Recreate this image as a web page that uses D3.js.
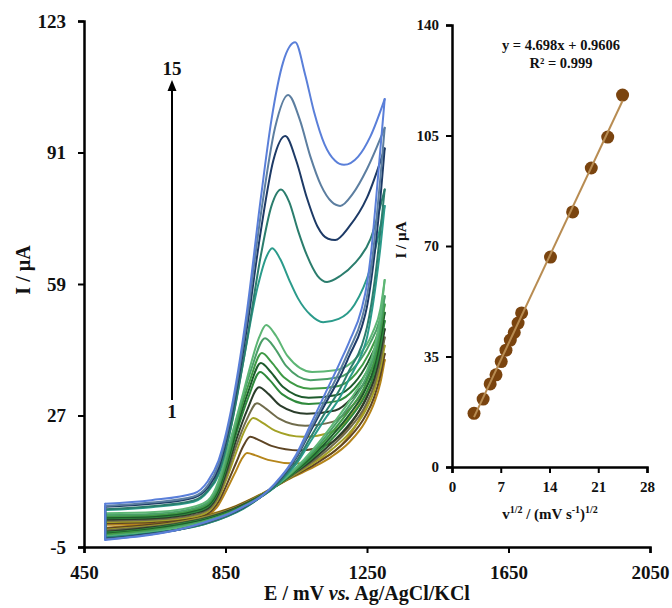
<!DOCTYPE html>
<html>
<head>
<meta charset="utf-8">
<title>Cyclic voltammograms at different scan rates</title>
<script src="https://d3js.org/d3.v7.min.js"></script>
<style>
body { margin: 0; background: #fff; }
text { font-family: "Liberation Serif", "Times New Roman", serif; font-weight: bold; fill: #111; }
</style>
</head>
<body>
<script>
// main CV plot: ticks
var xTicks = [450, 850, 1250, 1650, 2050];
var yTicks = [-5, 27, 59, 91, 123];

// curve 1 (slowest scan) .. curve 15 (fastest scan)
var curveColors = ["#b5851b", "#5e4524", "#a3a126", "#706c4c", "#2b3d2b",
                   "#2f8a3c", "#1d5b2c", "#3f9a45", "#4b9f68", "#5db675",
                   "#2b9b8b", "#2b7d6d", "#1d3a66", "#5c7ea0", "#5a7fd9"];

// forward (anodic) scans, [E mV, I uA]
var forwardScans = [
  [[510,0.4],[650,0.7],[760,1.5],[800,2.6],[830,5.2],[855,9.2],[880,13.6],[895,16.3],[911,17.9],[935,17.3],[970,16.2],[1050,15.3],[1130,16.8],[1190,21],[1240,28],[1275,35],[1300,40.5]],
  [[510,0.8],[650,1.1],[760,2],[800,3.1],[830,6],[855,10.5],[880,15.5],[900,19.5],[920,21.8],[945,21],[980,19.6],[1060,18.5],[1140,20],[1195,24],[1240,30],[1275,36.5],[1300,42]],
  [[510,1.1],[650,1.4],[760,2.4],[800,3.6],[830,6.8],[855,12],[880,18],[905,23.5],[928,26.4],[955,25.2],[990,23.3],[1070,21.8],[1150,23],[1200,26.5],[1245,32],[1278,38],[1300,44]],
  [[510,1.4],[650,1.7],[760,2.8],[800,4],[830,7.4],[855,13],[880,19.5],[910,26],[939,30],[965,28.6],[1000,26.3],[1075,24.5],[1155,25.5],[1205,29],[1248,34],[1280,40],[1300,46]],
  [[510,1.7],[650,2],[760,3.2],[800,4.4],[830,8],[855,14],[880,21],[912,28.5],[945,33.9],[972,32.2],[1005,29.4],[1080,27.4],[1160,28.2],[1210,31.5],[1250,36],[1280,42],[1300,48]],
  [[510,2],[650,2.3],[760,3.5],[800,4.8],[830,8.6],[855,15],[880,22.5],[915,31.5],[948,37.6],[975,35.6],[1010,32.2],[1085,29.8],[1165,30.5],[1215,33.5],[1252,38],[1282,44],[1300,50]],
  [[510,2.2],[650,2.5],[760,3.8],[800,5.1],[830,9],[855,15.6],[880,23.5],[915,33],[950,39.8],[978,37.6],[1012,34],[1085,31.3],[1165,32],[1215,35],[1253,40],[1283,46],[1300,52]],
  [[510,2.5],[650,2.8],[760,4.1],[800,5.5],[830,9.6],[855,16.4],[880,24.6],[917,35],[953,42.2],[980,40],[1015,36.3],[1090,33.5],[1170,34.2],[1220,37.3],[1255,42],[1284,48],[1300,54]],
  [[510,2.8],[650,3.1],[760,4.4],[800,5.9],[830,10.2],[855,17.2],[880,25.6],[920,37.5],[962,45.8],[990,43.3],[1022,39],[1090,35.6],[1170,36.3],[1222,39.5],[1258,44.5],[1285,50],[1300,56]],
  [[510,3.2],[650,3.5],[760,4.8],[800,6.3],[830,11],[855,18.5],[875,24.5],[900,32.5],[920,39],[945,46],[965,49],[992,46.5],[1025,41.5],[1095,37.6],[1160,38],[1222,41.2],[1265,47],[1288,53],[1300,60]],
  [[510,4],[640,4.7],[760,6],[800,8.5],[830,12.5],[860,22],[900,40],[940,58],[965,65.5],[982,67.7],[1005,65],[1030,60],[1055,55.5],[1090,51.5],[1126,49.7],[1170,50.5],[1215,54],[1260,63],[1300,78]],
  [[510,4.2],[640,4.9],[760,6.3],[800,8.8],[830,13],[865,24],[910,45],[950,66],[980,78],[1007,82],[1030,79],[1055,72],[1080,66],[1110,61],[1137,59.5],[1175,61],[1215,64],[1260,70],[1300,82]],
  [[510,4.8],[640,5.5],[760,7],[800,9.5],[830,14],[865,26],[910,48],[950,72],[985,89],[1019,95],[1050,89],[1080,80],[1110,73],[1140,70],[1160,69.7],[1200,73],[1250,80],[1300,92]],
  [[510,5],[640,5.8],[760,7.3],[800,10],[830,15],[865,27],[910,50],[950,76],[990,97],[1027,105],[1060,99],[1090,90],[1120,83],[1150,79],[1174,78],[1210,81],[1250,87],[1300,97]],
  [[510,5.5],[640,6.4],[760,8],[800,11],[830,16],[865,28],[910,52],[950,80],[980,99],[1013,113],[1047,117.8],[1075,110],[1100,101],[1130,93],[1160,89],[1185,88],[1225,90],[1260,95],[1300,104]]
];

// reverse scans, [E mV, I uA], from the switching potential back to the start
var reverseScans = [
  [[1300,40.5],[1288,35],[1270,30],[1245,25.5],[1200,20.5],[1150,17],[1100,14.5],[1040,12],[954,8],[880,5],[800,2.8],[700,1.2],[600,0.3],[510,-0.3]],
  [[1300,42],[1288,36.8],[1270,31.4],[1245,26.8],[1200,21.6],[1150,17.8],[1100,15],[1040,12.2],[954,7.9],[880,4.9],[800,2.6],[700,1],[600,0.1],[510,-0.5]],
  [[1300,44],[1288,38.6],[1270,32.9],[1245,28.1],[1200,22.7],[1150,18.7],[1100,15.5],[1040,12.3],[954,7.9],[880,4.7],[800,2.5],[700,0.8],[600,-0.2],[510,-0.8]],
  [[1300,46],[1288,40.3],[1270,34.3],[1245,29.3],[1200,23.8],[1150,19.5],[1100,16],[1040,12.5],[954,7.8],[880,4.6],[800,2.3],[700,0.6],[600,-0.4],[510,-1]],
  [[1300,48],[1288,42.1],[1270,35.8],[1245,30.6],[1200,24.9],[1150,20.3],[1100,16.5],[1040,12.7],[954,7.7],[880,4.5],[800,2.1],[700,0.4],[600,-0.6],[510,-1.3]],
  [[1300,50],[1288,43.9],[1270,37.2],[1245,31.9],[1200,26.1],[1150,21.2],[1100,17],[1040,12.8],[954,7.7],[880,4.3],[800,2],[700,0.3],[600,-0.9],[510,-1.5]],
  [[1300,52],[1288,45.7],[1270,38.7],[1245,33.2],[1200,27.2],[1150,22],[1100,17.5],[1040,13],[954,7.6],[880,4.2],[800,1.8],[700,0.1],[600,-1.1],[510,-1.8]],
  [[1300,54],[1288,47.4],[1270,40.1],[1245,34.4],[1200,28.3],[1150,22.8],[1100,18],[1040,13.2],[954,7.5],[880,4.1],[800,1.6],[700,-0.2],[600,-1.3],[510,-2]],
  [[1300,56],[1288,49.2],[1270,41.6],[1245,35.7],[1200,29.4],[1150,23.7],[1100,18.5],[1040,13.3],[954,7.5],[880,3.9],[800,1.5],[700,-0.4],[600,-1.6],[510,-2.3]],
  [[1300,60],[1288,51],[1270,43],[1245,37],[1200,30.5],[1150,24.5],[1100,19],[1040,13.5],[954,7.4],[880,3.8],[800,1.3],[700,-0.6],[600,-1.8],[510,-2.5]],
  [[1300,78],[1288,68],[1275,59],[1262,51.5],[1250,46],[1235,42],[1200,36],[1174,31.5],[1130,26],[1089,20.5],[1050,15.2],[1024,12.6],[990,9.6],[954,7.4],[900,4.3],[857,2.5],[790,0.5],[716,-0.8],[640,-1.6],[574,-2.2],[510,-2.6]],
  [[1300,82],[1288,72],[1275,62],[1262,54],[1250,48.5],[1235,44],[1200,38],[1174,33.5],[1130,27.5],[1089,21.5],[1050,15.8],[1024,13],[990,9.8],[954,7.4],[900,4.4],[857,2.6],[790,0.6],[716,-0.8],[640,-1.7],[574,-2.3],[510,-2.8]],
  [[1300,92],[1288,80],[1275,69],[1262,60],[1250,53.5],[1235,48.5],[1200,41.5],[1174,36.5],[1130,29.5],[1089,23],[1050,16.7],[1024,13.6],[990,10.2],[954,7.5],[900,4.6],[857,2.8],[790,0.8],[716,-0.8],[640,-1.8],[574,-2.5],[510,-3]],
  [[1300,97],[1288,85],[1275,73],[1262,63],[1250,56],[1235,50.5],[1200,43],[1174,38],[1130,30.5],[1089,23.5],[1050,17],[1024,13.8],[990,10.3],[954,7.5],[900,4.7],[857,2.9],[790,0.9],[716,-0.8],[640,-1.9],[574,-2.6],[510,-3.1]],
  [[1300,104],[1288,92],[1275,79],[1262,67],[1250,59],[1235,53],[1200,45],[1174,40],[1130,32],[1089,24.5],[1050,17.5],[1024,14],[990,10.5],[954,7.5],[900,4.8],[857,3],[790,1],[716,-0.8],[640,-2],[574,-2.7],[510,-3.3]]
];

var arrowLabels = ["1", "15"];

// inset: peak current vs square root of scan rate
var sqrtScanRate = [3.16, 4.47, 5.48, 6.32, 7.07, 7.75, 8.37, 8.94, 9.49, 10.0, 14.14, 17.32, 20.0, 22.36, 24.49];
var peakCurrent  = [17.0, 21.5, 26.3, 29.2, 33.4, 37.0, 40.2, 42.6, 45.6, 48.8, 66.5, 80.8, 94.7, 104.5, 117.8];
var fitSlope = 4.698, fitIntercept = 0.9606;
var insetXTicks = [0, 7, 14, 21, 28];
var insetYTicks = [0, 35, 70, 105, 140];

var svg = d3.select("body").append("svg")
    .attr("width", 672)
    .attr("height", 608);

var x = d3.scaleLinear().domain([450, 2050]).range([84, 650]);
var y = d3.scaleLinear().domain([-5, 123]).range([547, 21]);

// plain hyphen minus, as in the original figure
var plain = function(d) { return String(d); };

function styleAxis(g, size) {
  g.select(".domain").attr("stroke", "#000").attr("stroke-width", 2.5);
  g.selectAll(".tick line").attr("stroke", "#000").attr("stroke-width", 2);
  g.selectAll(".tick text").attr("font-size", size).attr("fill", "#111")
    .attr("font-family", '"Liberation Serif", "Times New Roman", serif').attr("font-weight", "bold");
}

// curves
var line = d3.line()
    .x(function(d) { return x(d[0]); })
    .y(function(d) { return y(d[1]); })
    .curve(d3.curveMonotoneX);

var straight = d3.line()
    .x(function(d) { return x(d[0]); })
    .y(function(d) { return y(d[1]); });

var cv = svg.append("g").attr("fill", "none").attr("stroke-width", 2)
    .attr("stroke-linejoin", "round").attr("stroke-linecap", "round");

forwardScans.forEach(function(fw, i) {
  var rv = reverseScans[i];
  var c = cv.append("g").attr("stroke", curveColors[i]);
  c.append("path").attr("d", line(fw));
  c.append("path").attr("d", line(rv.slice().reverse()));
  c.append("path").attr("d", straight([rv[rv.length - 1], fw[0]]));
});

// main axes
var gy = svg.append("g").attr("transform", "translate(84,0)")
    .call(d3.axisLeft(y).tickValues(yTicks).tickSize(6).tickPadding(12).tickFormat(plain));
styleAxis(gy, 19);
var gx = svg.append("g").attr("transform", "translate(0,547)")
    .call(d3.axisBottom(x).tickValues(xTicks).tickSize(6).tickPadding(13).tickFormat(plain));
styleAxis(gx, 19);

var xt = svg.append("text").attr("x", 367).attr("y", 600)
    .attr("text-anchor", "middle").attr("font-size", 20);
xt.append("tspan").text("E / mV ");
xt.append("tspan").attr("font-style", "italic").text("vs.");
xt.append("tspan").text(" Ag/AgCl/KCl");

svg.append("text").attr("transform", "translate(30,270) rotate(-90)")
    .attr("text-anchor", "middle").attr("font-size", 20).text("I / µA");

// scan-rate arrow
svg.append("line").attr("x1", 172).attr("x2", 172).attr("y1", 400).attr("y2", 88)
    .attr("stroke", "#000").attr("stroke-width", 2);
svg.append("path").attr("d", "M167.5,91 L172,80 L176.5,91 Z").attr("fill", "#000");
svg.append("text").attr("x", 172).attr("y", 75).attr("text-anchor", "middle")
    .attr("font-size", 19).text(arrowLabels[1]);
svg.append("text").attr("x", 172).attr("y", 418).attr("text-anchor", "middle")
    .attr("font-size", 19).text(arrowLabels[0]);

// inset
var xi = d3.scaleLinear().domain([0, 28]).range([452, 647]);
var yi = d3.scaleLinear().domain([0, 140]).range([467, 25]);

var inset = svg.append("g");
var iy = inset.append("g").attr("transform", "translate(452,0)")
    .call(d3.axisLeft(yi).tickValues(insetYTicks).tickSize(6).tickPadding(7).tickFormat(plain));
styleAxis(iy, 15);
var ix = inset.append("g").attr("transform", "translate(0,467)")
    .call(d3.axisBottom(xi).tickValues(insetXTicks).tickSize(6).tickPadding(8).tickFormat(plain));
styleAxis(ix, 15);

var pts = sqrtScanRate.map(function(v, i) { return [v, peakCurrent[i]]; });
inset.selectAll("circle").data(pts).enter().append("circle")
    .attr("cx", function(d) { return xi(d[0]); })
    .attr("cy", function(d) { return yi(d[1]); })
    .attr("r", 6.5)
    .attr("fill", "#7a440f");

var x0 = d3.min(sqrtScanRate), x1 = d3.max(sqrtScanRate);
inset.append("line")
    .attr("x1", xi(x0)).attr("y1", yi(fitSlope * x0 + fitIntercept))
    .attr("x2", xi(x1)).attr("y2", yi(fitSlope * x1 + fitIntercept))
    .attr("stroke", "#b88c52").attr("stroke-width", 2);

inset.append("text").attr("x", 561).attr("y", 50).attr("text-anchor", "middle")
    .attr("font-size", 14.5).text("y = " + fitSlope + "x + " + fitIntercept);
inset.append("text").attr("x", 561).attr("y", 68).attr("text-anchor", "middle")
    .attr("font-size", 14.5).text("R² = 0.999");

inset.append("text").attr("transform", "translate(406,240) rotate(-90)")
    .attr("text-anchor", "middle").attr("font-size", 15).text("I / µA");

var it = inset.append("text").attr("x", 550).attr("y", 519)
    .attr("text-anchor", "middle").attr("font-size", 15);
it.append("tspan").text("v");
it.append("tspan").attr("dy", -6).attr("font-size", 10).text("1/2");
it.append("tspan").attr("dy", 6).text(" / (mV s");
it.append("tspan").attr("dy", -6).attr("font-size", 10).text("-1");
it.append("tspan").attr("dy", 6).text(")");
it.append("tspan").attr("dy", -6).attr("font-size", 10).text("1/2");
</script>
</body>
</html>
